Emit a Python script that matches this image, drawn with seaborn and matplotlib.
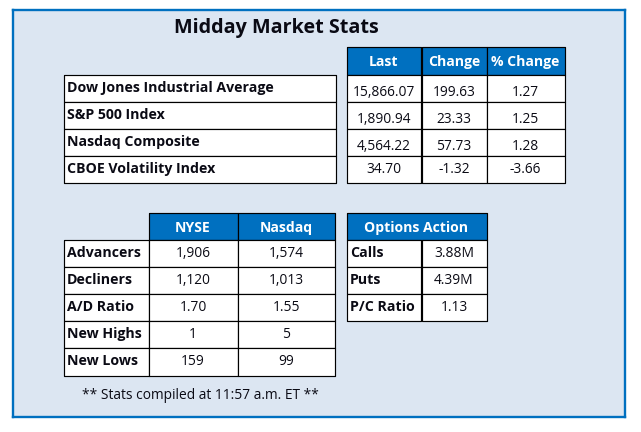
import matplotlib
matplotlib.use('Agg')
import matplotlib.pyplot as plt
import numpy as np
import pandas as pd
import seaborn as sns
from matplotlib.colors import ListedColormap

sns.set_style('white')
plt.rcParams['font.family'] = ['Open Sans', 'DejaVu Sans']

W, H = 641, 432
BLUE = '#0070C0'
PANEL = '#DCE6F2'
INK = '#0A0A14'

# index table
index_names = ['Dow Jones Industrial Average', 'S&P 500 Index', 'Nasdaq Composite', 'CBOE Volatility Index']
index_headers = ['Last', 'Change', '% Change']
index_last = ['15,866.07', '1,890.94', '4,564.22', '34.70']
index_change = ['199.63', '23.33', '57.73', '-1.32']
index_pct = ['1.27', '1.25', '1.28', '-3.66']

# breadth table
breadth_names = ['Advancers', 'Decliners', 'A/D Ratio', 'New Highs', 'New Lows']
breadth_headers = ['NYSE', 'Nasdaq']
breadth_nyse = ['1,906', '1,120', '1.70', '1', '159']
breadth_nasdaq = ['1,574', '1,013', '1.55', '5', '99']

# options table
options_header = 'Options Action'
options_names = ['Calls', 'Puts', 'P/C Ratio']
options_values = ['3.88M', '4.39M', '1.13']

title = 'Midday Market Stats'
footnote = '** Stats compiled at 11:57 a.m. ET **'

FS_NAME = 10.2
FS_HEAD = 10.1
FS_VALUE = 9.9
TEXT_DROP = 1.6

fig = plt.figure(figsize=(W / 100, H / 100), dpi=100, facecolor='white')


def px_axes(x0, y0, x1, y1):
    return fig.add_axes([x0 / W, 1 - y1 / H, (x1 - x0) / W, (y1 - y0) / H])


def cells(x0, x1, y0, texts, kind='value', row_h=27, nudge=None):
    # one column of a table, drawn as a one-column heatmap
    n = len(texts)
    ax = px_axes(x0, y0, x1, y0 + n * row_h)
    shade = pd.DataFrame(np.full((n, 1), 1 if kind == 'header' else 0))
    sns.heatmap(shade, ax=ax, cmap=ListedColormap(['white', BLUE]), vmin=0, vmax=1, cbar=False,
                linewidths=0.85, linecolor='black', xticklabels=False, yticklabels=False,
                antialiased=True)
    ax.collections[0].set_clip_on(False)
    for i, label in enumerate(texts):
        dy = ((nudge[i] if nudge else 0) + TEXT_DROP) / row_h
        if kind == 'name':
            ax.text(3.5 / (x1 - x0), i + 0.5 + dy, label, ha='left', va='center', fontsize=FS_NAME,
                    fontweight='bold', color=INK)
        elif kind == 'header':
            ax.text(0.5, i + 0.5 + dy, label, ha='center', va='center', fontsize=FS_HEAD,
                    fontweight='bold', color='white')
        else:
            ax.text(0.5, i + 0.5 + dy, label, ha='center', va='center', fontsize=FS_VALUE, color=INK)
    return ax


# panel behind everything
panel = px_axes(12.5, 9.5, 625, 417)
panel.set_facecolor(PANEL)
panel.set_xticks([])
panel.set_yticks([])
for spine in panel.spines.values():
    spine.set_visible(True)
    spine.set_color(BLUE)
    spine.set_linewidth(1.7)

fig.text(276 / W, 1 - 28 / H, title, ha='center', va='center', fontsize=14.2, fontweight='bold', color=INK)
fig.text(200 / W, 1 - 395.5 / H, footnote, ha='center', va='center', fontsize=9.9, color=INK)

# top left names
cells(63.5, 335.5, 74.5, index_names, 'name', nudge=[-1.3] * 4)

# top right index values
top_nudge = [2.5, 2.5, 2.5, -1.3]
for x0, x1, head, column in zip([346.5, 421.5, 486.5], [421.5, 486.5, 564.5], index_headers,
                                [index_last, index_change, index_pct]):
    cells(x0, x1, 46.5, [head], 'header', row_h=28)
    cells(x0, x1, 74.5, column, nudge=top_nudge)

# bottom left breadth table
cells(63.5, 148.5, 239.5, breadth_names[:4], 'name', nudge=[-1.3] * 4)
cells(63.5, 148.5, 347.5, breadth_names[4:], 'name', row_h=28, nudge=[-1.8])
for x0, x1, head, column in zip([148.5, 237.5], [237.5, 335.5], breadth_headers, [breadth_nyse, breadth_nasdaq]):
    cells(x0, x1, 212.5, [head], 'header')
    cells(x0, x1, 239.5, column[:4], nudge=[-1.3] * 4)
    cells(x0, x1, 347.5, column[4:], row_h=28, nudge=[-1.8])

# bottom right options table
cells(346.5, 486.5, 212.5, [options_header], 'header')
cells(346.5, 421.5, 239.5, options_names, 'name', nudge=[-1.3] * 3)
cells(421.5, 486.5, 239.5, options_values, nudge=[-1.3] * 3)

fig.savefig('out.png', dpi=100, facecolor='white')
